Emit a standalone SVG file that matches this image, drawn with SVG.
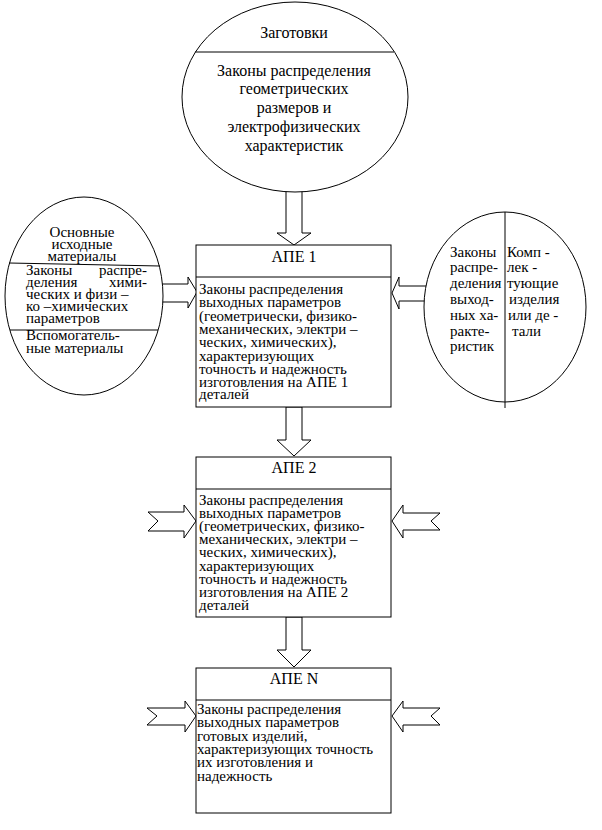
<svg xmlns="http://www.w3.org/2000/svg" width="602" height="830" viewBox="0 0 602 830">
<style>
.s{fill:#fff;stroke:#000;stroke-width:1}
.l{stroke:#000;stroke-width:1;fill:none}
text{font-family:"Liberation Serif","Times New Roman",serif;font-size:15px;fill:#000}
.c{text-anchor:middle}
.e{text-anchor:end}
.big{font-size:16px}
</style>
<g id="connectors">
<polygon class="s" points="286,190 302,190 302,233 311,233 294,245 277,233 286,233"/>
<polygon class="s" points="286,407 302,407 302,440 311,440 294,456 277,440 286,440"/>
<polygon class="s" points="286,617 302,617 302,650 311,650 294,667 277,650 286,650"/>
<polygon class="s" points="160,284 188,284 188,277 197,292 188,308 188,302 160,302"/>
<polygon class="s" points="428,286 399,286 399,277 392,293 399,309 399,301 428,301"/>
<polygon class="s" points="148,512 184,512 184,505 196,521 184,538 184,531 148,531 158,521"/>
<polygon class="s" points="440,513 403,513 403,505 392,521 403,538 403,530 440,530 431,521"/>
<polygon class="s" points="147,708 185,708 185,701 196,716 185,732 185,725 147,725 157,716"/>
<polygon class="s" points="440,708 403,708 403,701 392,716 403,732 403,725 440,725 431,716"/>
</g>
<g id="zagotovki">
<ellipse class="s" cx="295" cy="97" rx="113" ry="95"/>
<line class="l" x1="195" y1="52" x2="394" y2="52"/>
<text class="c big" x="294" y="38">Заготовки</text>
<text class="c big" x="294" y="76">Законы распределения</text>
<text class="c big" x="294" y="94">геометрических</text>
<text class="c big" x="294" y="113">размеров и</text>
<text class="c big" x="294" y="132">электрофизических</text>
<text class="c big" x="294" y="151">характеристик</text>
</g>
<g id="materials">
<ellipse class="s" cx="84" cy="296" rx="79" ry="99"/>
<line class="l" x1="9" y1="263" x2="160" y2="266"/>
<line class="l" x1="10" y1="330" x2="158" y2="330"/>
<text class="c" x="82" y="237">Основные</text>
<text class="c" x="82" y="249">исходные</text>
<text class="c" x="82" y="261">материалы</text>
<text x="26" y="275">Законы</text><text class="e" x="147" y="275">распре-</text>
<text x="26" y="287">деления</text><text class="e" x="147" y="287">хими-</text>
<text x="26" y="299">ческих и физи –</text>
<text x="26" y="311">ко –химических</text>
<text x="26" y="323">параметров</text>
<text x="26" y="340">Вспомогатель-</text>
<text x="26" y="353">ные материалы</text>
</g>
<g id="komplekt">
<ellipse class="s" cx="505" cy="307" rx="81" ry="95"/>
<line class="l" x1="505" y1="212" x2="505" y2="408"/>
<text x="450" y="257">Законы</text>
<text x="450" y="272">распре-</text>
<text x="450" y="288">деления</text>
<text x="450" y="304">выход-</text>
<text x="450" y="320">ных ха-</text>
<text x="450" y="336">ракте-</text>
<text x="450" y="351">ристик</text>
<text x="507" y="257">Комп -</text>
<text x="507" y="272">лек -</text>
<text x="507" y="288">тующие</text>
<text x="509" y="304">изделия</text>
<text x="508" y="320">или де -</text>
<text x="512" y="336">тали</text>
</g>
<g id="ape1">
<rect class="s" x="196" y="245" width="195" height="162"/>
<line class="l" x1="196" y1="277" x2="391" y2="277"/>
<text class="c big" x="294" y="262">АПЕ 1</text>
<text x="199" y="294">Законы распределения</text>
<text x="199" y="307">выходных параметров</text>
<text x="199" y="321">(геометрически, физико-</text>
<text x="199" y="334">механических, электри –</text>
<text x="199" y="347">ческих, химических),</text>
<text x="199" y="361">характеризующих</text>
<text x="199" y="374">точность и надежность</text>
<text x="199" y="387">изготовления на АПЕ 1</text>
<text x="199" y="399">деталей</text>
</g>
<g id="ape2">
<rect class="s" x="196" y="457" width="195" height="160"/>
<line class="l" x1="196" y1="489" x2="391" y2="489"/>
<text class="c big" x="294" y="473">АПЕ 2</text>
<text x="199" y="505">Законы распределения</text>
<text x="199" y="518">выходных параметров</text>
<text x="199" y="531">(геометрических, физико-</text>
<text x="199" y="544">механических, электри –</text>
<text x="199" y="557">ческих, химических),</text>
<text x="199" y="571">характеризующих</text>
<text x="199" y="584">точность и надежность</text>
<text x="199" y="597">изготовления на АПЕ 2</text>
<text x="199" y="610">деталей</text>
</g>
<g id="apeN">
<rect class="s" x="196" y="668" width="195" height="145"/>
<line class="l" x1="196" y1="700" x2="391" y2="700" stroke-width="2"/>
<text class="c big" x="294" y="684">АПЕ N</text>
<text x="197" y="714">Законы распределения</text>
<text x="197" y="727">выходных параметров</text>
<text x="197" y="741">готовых изделий,</text>
<text x="197" y="754">характеризующих точность</text>
<text x="197" y="767">их изготовления и</text>
<text x="197" y="781">надежность</text>
</g>
</svg>
